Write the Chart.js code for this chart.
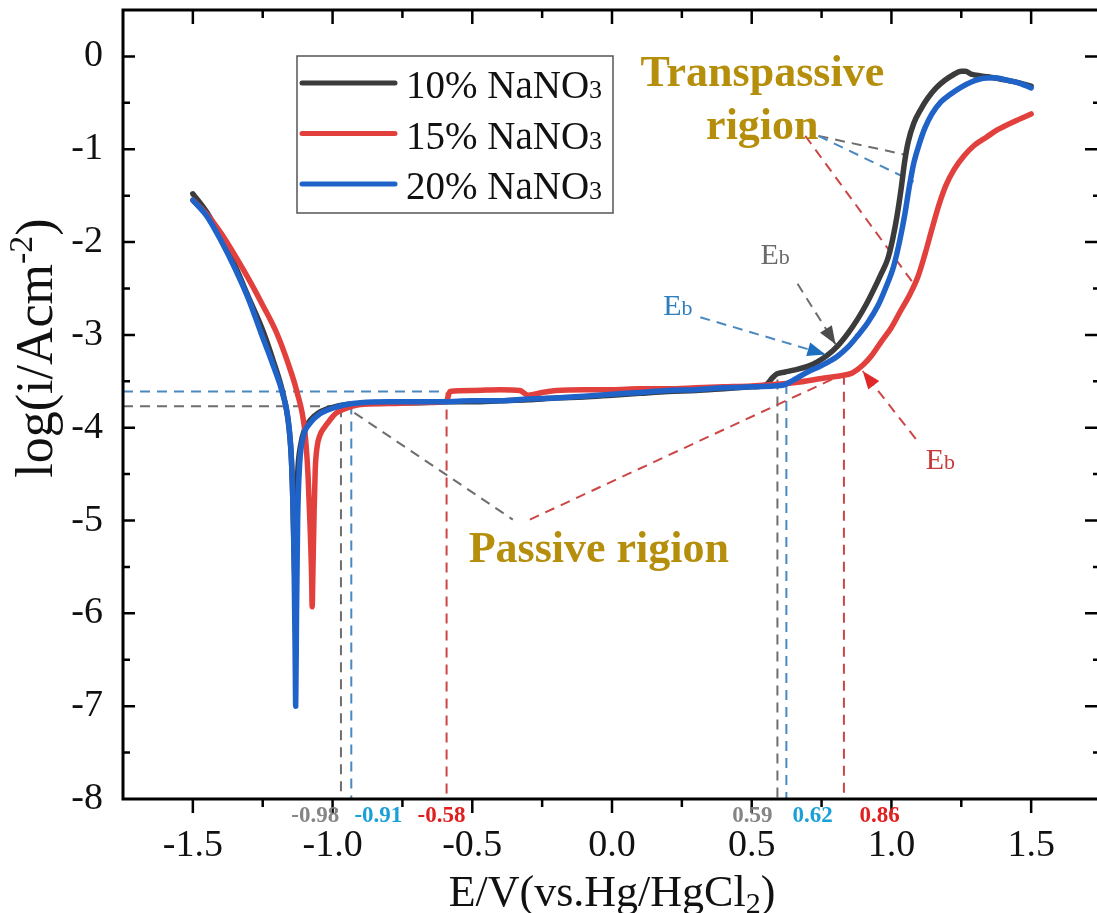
<!DOCTYPE html>
<html>
<head>
<meta charset="utf-8">
<title>Polarización NaNO3</title>
<script src="https://cdn.jsdelivr.net/npm/chart.js@4.4.0/dist/chart.umd.min.js"></script>
<style>
  html, body { margin: 0; padding: 0; background: #fff; overflow: hidden; }
  #wrap { width: 1112px; height: 913px; }
</style>
</head>
<body>
<div id="wrap"><canvas id="grafica" width="1112" height="913"></canvas></div>
<script>
// Datos: E (V vs Hg/HgCl2) y log(i)
const e10 = [-1.5, -1.45, -1.40, -1.35, -1.30, -1.25, -1.21, -1.18, -1.16, -1.148, -1.142, -1.138, -1.135, -1.130, -1.125, -1.115, -1.10, -1.08, -1.05, -1.0, -0.95, -0.9, -0.8, -0.7, -0.6, -0.5, -0.4, -0.3, -0.2, -0.1, 0.0, 0.1, 0.2, 0.3, 0.4, 0.5, 0.55, 0.575, 0.59, 0.62, 0.65, 0.70, 0.735, 0.77, 0.807, 0.845, 0.879, 0.91, 0.937, 0.962, 0.987, 1.005, 1.02, 1.035, 1.047, 1.06, 1.08, 1.105, 1.13, 1.16, 1.19, 1.22, 1.25, 1.265, 1.285, 1.32, 1.345, 1.40, 1.45, 1.5];
const i10 = [-1.48, -1.68, -1.95, -2.25, -2.6, -2.95, -3.3, -3.6, -3.9, -4.3, -4.8, -5.3, -5.6, -5.0, -4.5, -4.2, -4.02, -3.92, -3.84, -3.78, -3.75, -3.74, -3.73, -3.73, -3.72, -3.72, -3.71, -3.70, -3.68, -3.67, -3.65, -3.63, -3.61, -3.60, -3.58, -3.56, -3.54, -3.46, -3.42, -3.40, -3.38, -3.34, -3.29, -3.22, -3.12, -2.98, -2.83, -2.67, -2.51, -2.35, -2.18, -1.96, -1.72, -1.42, -1.14, -0.92, -0.72, -0.57, -0.45, -0.34, -0.26, -0.2, -0.16, -0.16, -0.19, -0.21, -0.22, -0.25, -0.28, -0.32];

const e15 = [-1.5, -1.45, -1.40, -1.35, -1.30, -1.25, -1.20, -1.16, -1.127, -1.10, -1.088, -1.080, -1.075, -1.073, -1.070, -1.066, -1.062, -1.055, -1.045, -1.03, -1.01, -0.99, -0.96, -0.93, -0.9, -0.8, -0.7, -0.6, -0.59, -0.58, -0.5, -0.4, -0.33, -0.3, -0.25, -0.2, -0.1, 0.0, 0.1, 0.2, 0.3, 0.4, 0.5, 0.6, 0.664, 0.75, 0.818, 0.86, 0.90, 0.93, 0.962, 1.0, 1.033, 1.065, 1.094, 1.12, 1.145, 1.17, 1.195, 1.224, 1.26, 1.296, 1.34, 1.38, 1.44, 1.5];
const i15 = [-1.55, -1.70, -1.90, -2.14, -2.40, -2.68, -2.98, -3.3, -3.62, -4.02, -4.5, -5.1, -5.6, -5.93, -5.5, -4.9, -4.45, -4.2, -4.08, -4.0, -3.92, -3.85, -3.80, -3.77, -3.75, -3.74, -3.73, -3.72, -3.70, -3.61, -3.60, -3.59, -3.60, -3.65, -3.62, -3.60, -3.59, -3.59, -3.58, -3.58, -3.57, -3.56, -3.55, -3.53, -3.51, -3.47, -3.44, -3.41, -3.32, -3.22, -3.08, -2.92, -2.74, -2.57, -2.38, -2.13, -1.86, -1.60, -1.39, -1.22, -1.07, -0.96, -0.87, -0.79, -0.70, -0.62];

const e20 = [-1.5, -1.45, -1.40, -1.35, -1.30, -1.256, -1.21, -1.18, -1.155, -1.145, -1.138, -1.134, -1.132, -1.129, -1.125, -1.118, -1.105, -1.08, -1.05, -1.0, -0.95, -0.9, -0.8, -0.7, -0.6, -0.5, -0.4, -0.3, -0.2, -0.1, 0.0, 0.1, 0.2, 0.3, 0.4, 0.5, 0.58, 0.614, 0.66, 0.70, 0.75, 0.807, 0.845, 0.879, 0.915, 0.951, 0.98, 1.008, 1.03, 1.048, 1.063, 1.08, 1.10, 1.12, 1.145, 1.177, 1.21, 1.25, 1.29, 1.32, 1.367, 1.42, 1.46, 1.5];
const i20 = [-1.55, -1.72, -1.98, -2.28, -2.62, -2.98, -3.35, -3.62, -4.02, -4.5, -5.4, -6.4, -7.0, -6.0, -5.0, -4.4, -4.1, -3.95, -3.86, -3.79, -3.75, -3.73, -3.72, -3.72, -3.72, -3.71, -3.71, -3.69, -3.68, -3.66, -3.64, -3.62, -3.60, -3.59, -3.57, -3.56, -3.55, -3.54, -3.47, -3.40, -3.33, -3.23, -3.13, -3.01, -2.87, -2.69, -2.49, -2.26, -1.98, -1.70, -1.42, -1.15, -0.94, -0.77, -0.62, -0.49, -0.41, -0.33, -0.27, -0.24, -0.23, -0.26, -0.29, -0.34];

const nombres = ['10% NaNO₃', '15% NaNO₃', '20% NaNO₃'];
const colores = ['#3b3b3b', '#e2403d', '#1f63c9'];

const ticksX = [-1.5, -1.0, -0.5, 0.0, 0.5, 1.0, 1.5];
const ticksY = [-8, -7, -6, -5, -4, -3, -2, -1, 0];

// Potenciales marcados bajo el eje
const textosE = ['-0.98', '-0.91', '-0.58', '0.59', '0.62', '0.86'];

const fuente = '"Liberation Serif", "Times New Roman", serif';
const oro = '#b58e0c';
const gris = '#6e6e6e', azul = '#4a88c0', rojo = '#cc4646';

// Líneas guía discontinuas (en unidades de los datos)
const guias = [
  { p: [[-1.75, -3.61], [-0.60, -3.61]], c: azul },
  { p: [[-1.75, -3.77], [-0.97, -3.77]], c: gris },
  { p: [[-0.97, -3.78], [-0.97, -8]], c: gris },
  { p: [[-0.933, -3.75], [-0.933, -8]], c: azul },
  { p: [[-0.592, -3.62], [-0.592, -8]], c: rojo },
  { p: [[0.592, -3.48], [0.592, -8]], c: gris },
  { p: [[0.624, -3.53], [0.624, -8]], c: azul },
  { p: [[0.83, -3.43], [0.83, -8]], c: rojo },
  { p: [[-0.922, -3.84], [-0.355, -4.99]], c: gris },
  { p: [[-0.294, -4.99], [0.83, -3.42]], c: rojo },
  { p: [[0.739, -0.857], [1.051, -1.06]], c: gris },
  { p: [[0.739, -0.857], [1.08, -1.35]], c: azul },
  { p: [[0.692, -0.857], [1.087, -2.48]], c: rojo }
];
const flechas = [
  { p: [[0.664, -2.45], [0.80, -3.10]], c: gris, punta: '#4d4d4d' },
  { p: [[0.316, -2.81], [0.764, -3.21]], c: azul, punta: '#1f6fc0' },
  { p: [[1.087, -4.12], [0.897, -3.39]], c: rojo, punta: '#e02a2a' }
];

function puntos(xs, ys) {
  return xs.map((x, k) => ({ x: x, y: ys[k] }));
}

function aPixel(chart, x, y) {
  return [chart.scales.x.getPixelForValue(x), chart.scales.y.getPixelForValue(y)];
}

// texto con subíndice / superíndice simple
function textoPartes(ctx, partes, x, y) {
  let ancho = 0;
  partes.forEach(pt => { ctx.font = pt.f; ancho += ctx.measureText(pt.t).width; });
  let cx = x - ancho / 2;
  partes.forEach(pt => {
    ctx.font = pt.f;
    ctx.fillText(pt.t, cx, y + (pt.dy || 0));
    cx += ctx.measureText(pt.t).width;
  });
}

function textoEb(ctx, x, y, color) {
  ctx.fillStyle = color;
  ctx.textAlign = 'left';
  ctx.textBaseline = 'alphabetic';
  ctx.font = '30px ' + fuente;
  ctx.fillText('E', x, y);
  const w = ctx.measureText('E').width;
  ctx.font = '22px ' + fuente;
  ctx.fillText('b', x + w, y);
}

const anotaciones = {
  id: 'anotaciones',
  beforeDatasetsDraw(chart) {
    const ctx = chart.ctx;
    ctx.save();
    ctx.lineWidth = 2;
    ctx.setLineDash([10, 7]);
    guias.concat(flechas).forEach(g => {
      const a = aPixel(chart, g.p[0][0], g.p[0][1]);
      const b = aPixel(chart, g.p[1][0], g.p[1][1]);
      ctx.strokeStyle = g.c;
      ctx.beginPath();
      ctx.moveTo(a[0], a[1]);
      ctx.lineTo(b[0], b[1]);
      ctx.stroke();
    });
    ctx.restore();
  },
  afterDatasetsDraw(chart) {
    const ctx = chart.ctx;
    ctx.save();
    // puntas de flecha
    flechas.forEach(f => {
      const a = aPixel(chart, f.p[0][0], f.p[0][1]);
      const b = aPixel(chart, f.p[1][0], f.p[1][1]);
      const ang = Math.atan2(b[1] - a[1], b[0] - a[0]);
      ctx.fillStyle = f.punta;
      ctx.beginPath();
      ctx.moveTo(b[0], b[1]);
      ctx.lineTo(b[0] - 18 * Math.cos(ang) + 7 * Math.sin(ang), b[1] - 18 * Math.sin(ang) - 7 * Math.cos(ang));
      ctx.lineTo(b[0] - 18 * Math.cos(ang) - 7 * Math.sin(ang), b[1] - 18 * Math.sin(ang) + 7 * Math.cos(ang));
      ctx.closePath();
      ctx.fill();
    });
    ctx.restore();
  },
  afterDraw(chart) {
    const ctx = chart.ctx;
    const area = chart.chartArea;
    const sx = chart.scales.x, sy = chart.scales.y;
    ctx.save();

    // marco
    ctx.strokeStyle = '#000';
    ctx.lineWidth = 3;
    ctx.strokeRect(area.left, area.top, area.right - area.left, area.bottom - area.top);

    // marcas de los ejes
    ctx.lineWidth = 2.5;
    ctx.beginPath();
    for (let v = -1.5; v <= 1.51; v += 0.25) {
      const p = sx.getPixelForValue(v);
      const mayor = Math.abs(v * 2 - Math.round(v * 2)) < 1e-6;
      const l = mayor ? 14 : 8;
      ctx.moveTo(p, area.bottom); ctx.lineTo(p, area.bottom + l);
      ctx.moveTo(p, area.top); ctx.lineTo(p, area.top + l);
    }
    for (let v = -7.5; v <= 0.01; v += 0.5) {
      const p = sy.getPixelForValue(v);
      const mayor = Math.abs(v - Math.round(v)) < 1e-6;
      ctx.moveTo(area.left, p); ctx.lineTo(area.left + (mayor ? 12 : 7), p);
      ctx.moveTo(area.right, p); ctx.lineTo(area.right - (mayor ? 16 : 8), p);
    }
    ctx.stroke();

    // leyenda
    ctx.strokeStyle = '#555';
    ctx.lineWidth = 1.5;
    ctx.strokeRect(297, 56, 316, 157);
    nombres.forEach((n, k) => {
      const yy = 83 + k * 50.5;
      ctx.strokeStyle = colores[k];
      ctx.lineWidth = 5;
      ctx.lineCap = 'round';
      ctx.beginPath();
      ctx.moveTo(302, yy);
      ctx.lineTo(395, yy);
      ctx.stroke();
      ctx.fillStyle = '#111';
      ctx.textAlign = 'left';
      ctx.textBaseline = 'alphabetic';
      ctx.font = '39px ' + fuente;
      const base = n.replace('₃', '');
      ctx.fillText(base, 406, yy + 15);
      const w = ctx.measureText(base).width;
      ctx.font = '26px ' + fuente;
      ctx.fillText('3', 406 + w, yy + 15);
    });

    // textos de regiones
    ctx.fillStyle = oro;
    ctx.textAlign = 'center';
    ctx.textBaseline = 'alphabetic';
    ctx.font = 'bold 44px ' + fuente;
    let p = aPixel(chart, 0.538, -0.318);
    ctx.fillText('Transpassive', p[0], p[1]);
    p = aPixel(chart, 0.538, -0.89);
    ctx.fillText('rigion', p[0], p[1]);
    p = aPixel(chart, -0.047, -5.45);
    ctx.fillText('Passive rigion', p[0], p[1]);

    // Eb
    p = aPixel(chart, 0.531, -2.237); textoEb(ctx, p[0], p[1], '#6a6a6a');
    p = aPixel(chart, 0.183, -2.787); textoEb(ctx, p[0], p[1], '#2f7fbf');
    p = aPixel(chart, 1.123, -4.447); textoEb(ctx, p[0], p[1], '#c83a3a');

    // potenciales bajo el eje
    const posE = [-1.062, -0.836, -0.61, 0.502, 0.718, 0.958];
    const colE = ['#858585', '#1a9fd6', '#e02020', '#858585', '#1a9fd6', '#e02020'];
    ctx.font = 'bold 23px ' + fuente;
    ctx.textAlign = 'center';
    textosE.forEach((t, k) => {
      ctx.fillStyle = colE[k];
      ctx.fillText(t, sx.getPixelForValue(posE[k]), area.bottom + 23);
    });

    // títulos de ejes
    ctx.fillStyle = '#111';
    ctx.textAlign = 'left';
    textoPartes(ctx, [
      { t: 'E/V(vs.Hg/HgCl', f: '44px ' + fuente },
      { t: '2', f: '30px ' + fuente, dy: 7 },
      { t: ')', f: '44px ' + fuente }
    ], 612, 906);

    ctx.translate(52, 348);
    ctx.rotate(-Math.PI / 2);
    textoPartes(ctx, [
      { t: 'log(i/Acm', f: '52px ' + fuente },
      { t: '-2', f: '34px ' + fuente, dy: -20 },
      { t: ')', f: '52px ' + fuente }
    ], 0, 0);
    ctx.restore();
  }
};

const ctx = document.getElementById('grafica').getContext('2d');

const grafica = new Chart(ctx, {
  type: 'line',
  data: {
    datasets: [
      { label: nombres[0], data: puntos(e10, i10), borderColor: colores[0], order: 3 },
      { label: nombres[1], data: puntos(e15, i15), borderColor: colores[1], order: 2 },
      { label: nombres[2], data: puntos(e20, i20), borderColor: colores[2], order: 1 }
    ]
  },
  options: {
    responsive: false,
    animation: false,
    devicePixelRatio: 1,
    layout: { padding: { left: 0, top: 10, right: 11, bottom: 0 } },
    elements: {
      point: { radius: 0 },
      line: { borderWidth: 5.5, cubicInterpolationMode: 'monotone', borderCapStyle: 'round', borderJoinStyle: 'round' }
    },
    plugins: { legend: { display: false }, tooltip: { enabled: false } },
    scales: {
      x: {
        type: 'linear',
        min: -1.75,
        max: 1.75,
        afterBuildTicks: s => { s.ticks = ticksX.map(v => ({ value: v })); },
        afterFit: s => { s.height = 114; s.paddingLeft = 0; s.paddingRight = 0; },
        grid: { display: false, drawTicks: false },
        border: { display: false },
        ticks: {
          color: '#111',
          padding: 24,
          maxRotation: 0,
          autoSkip: false,
          font: { family: fuente, size: 38 },
          callback: v => Number(v).toFixed(1)
        }
      },
      y: {
        min: -8,
        max: 0.5,
        afterBuildTicks: s => { s.ticks = ticksY.map(v => ({ value: v })); },
        afterFit: s => { s.width = 123; s.paddingTop = 0; s.paddingBottom = 0; },
        grid: { display: false, drawTicks: false },
        border: { display: false },
        ticks: {
          color: '#111',
          padding: 20,
          autoSkip: false,
          font: { family: fuente, size: 38 },
          callback: v => String(v)
        }
      }
    }
  },
  plugins: [anotaciones]
});
</script>
</body>
</html>
